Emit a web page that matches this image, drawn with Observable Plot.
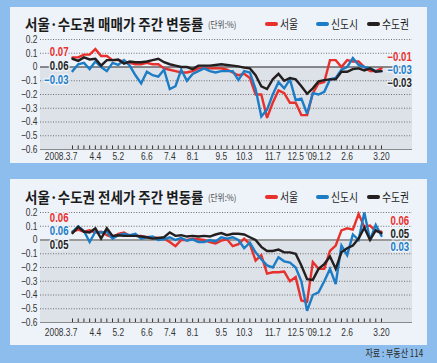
<!DOCTYPE html>
<html><head><meta charset="utf-8">
<script src="https://cdn.jsdelivr.net/npm/d3@7"></script>
<script src="https://cdn.jsdelivr.net/npm/@observablehq/plot@0.6"></script>
<style>
body{margin:0;background:#8dbdec;}
#page{position:relative;width:437px;height:363px;background:#8dbdec;overflow:hidden;font-family:"Noto Sans CJK KR","Noto Sans",sans-serif;}
.panel{position:absolute;left:10px;width:417px;background:#eef3f9;}
.panel svg{position:absolute;left:0;top:0;}
.title{position:absolute;left:15px;font-weight:bold;font-size:14.5px;line-height:15px;transform:scaleX(0.93);transform-origin:0 50%;white-space:nowrap;color:#1b1b1b;}
.unit{position:absolute;left:198px;font-size:9px;line-height:10px;transform:scaleX(0.85);transform-origin:0 50%;white-space:nowrap;color:#444;}
.leg{position:absolute;font-size:12px;line-height:12px;white-space:nowrap;color:#1b1b1b;}
.leg span.sw{position:absolute;top:4px;width:13px;height:4px;border-radius:2px;}
.leg span.tx{position:absolute;left:15px;top:0;transform:scaleX(0.82);transform-origin:0 50%;}
#src{position:absolute;right:14px;top:347px;font-size:10px;line-height:11px;color:#2a2a2a;transform:scaleX(0.8);transform-origin:100% 50%;white-space:nowrap;}
</style>
</head><body>
<div id="page"></div>
<script>
// ---------- data ----------
const weekCount = 55; // 2008.3.7 .. 2009.3.20, weekly
const xTickWeeks = [0, 4, 8, 13, 17, 21, 26, 30, 35, 39, 43, 48, 54];
const xTickLabels = ["2008.3.7", "4.4", "5.2", "6.6", "7.4", "8.1", "9.5", "10.3", "11.7", "12.5", "'09.1.2", "2.6", "3.20"];
const yTicks = [0.2, 0.1, 0, -0.1, -0.2, -0.3, -0.4, -0.5, -0.6];
const seriesNames = ["서울", "신도시", "수도권"];
const seriesColors = ["#e8302c", "#1c7dc6", "#231f20"];

// 매매가 (sale price) weekly change, %
const saleSeoul = [0.07,0.07,0.09,0.09,0.13,0.08,0.08,0.05,0.05,0.04,0.03,0.02,0.02,0.03,0.02,0.02,-0.01,-0.02,-0.03,-0.04,-0.04,-0.03,-0.01,-0.01,-0.01,-0.01,-0.01,-0.02,-0.04,-0.06,-0.05,-0.08,-0.2,-0.2,-0.37,-0.26,-0.17,-0.19,-0.26,-0.26,-0.35,-0.35,-0.19,-0.12,-0.11,0.05,0.05,0,0.05,0.04,0.04,0,-0.03,-0.03,-0.01];
const saleNewTown = [-0.03,0.02,0.03,-0.015,0.04,0,-0.03,0.03,0.015,0.05,0.01,-0.06,-0.12,-0.035,-0.06,-0.07,-0.02,-0.16,-0.14,-0.02,-0.1,-0.05,-0.03,-0.01,-0.03,-0.04,-0.03,-0.03,-0.03,-0.095,-0.03,-0.04,-0.16,-0.36,-0.31,-0.2,-0.11,-0.155,-0.09,-0.24,-0.23,-0.34,-0.19,-0.2,-0.18,-0.09,-0.08,-0.02,0,0.065,0.015,0,-0.01,-0.03,-0.03];
const saleMetro = [0.06,0.045,0.07,0.055,0.06,0.01,0.05,0.05,0.055,0.025,0.04,0.035,0.035,0.04,0.05,0.06,0.035,0.02,0.01,0,0,-0.015,0.01,0.01,0.01,0.015,0.02,0.015,0.01,0.005,-0.005,-0.01,-0.06,-0.14,-0.16,-0.09,-0.05,-0.1,-0.08,-0.09,-0.14,-0.195,-0.155,-0.105,-0.095,-0.09,-0.09,-0.035,-0.035,-0.015,-0.01,-0.025,-0.01,-0.035,-0.03];

// 전세가 (jeonse) weekly change, %
const rentSeoul = [0.06,0.075,0.06,0.07,0.055,0.06,0.035,0.02,0.045,0.055,0.03,0.03,0.03,0.02,0.02,0.015,0.01,-0.015,-0.045,0,0,0.01,0.005,0,-0.015,-0.025,-0.005,0.005,-0.045,-0.03,0.01,-0.03,-0.15,-0.11,-0.245,-0.235,-0.235,-0.23,-0.3,-0.27,-0.44,-0.45,-0.16,-0.21,-0.21,-0.08,-0.04,0.07,0.085,0.075,0.19,0.095,0.105,0.065,0.06];
const rentNewTown = [0.06,0.1,0.065,-0.015,0.06,0.055,0.06,0.01,0.035,0.045,0.035,0.045,0.01,0.02,0.025,0,0.005,0.02,0,0.015,-0.005,0.005,-0.015,-0.015,0,-0.01,0.02,0.01,0.02,0,-0.06,-0.02,-0.09,-0.14,-0.185,-0.2,-0.125,-0.155,-0.165,-0.2,-0.3,-0.515,-0.4,-0.38,-0.3,-0.21,-0.32,-0.04,-0.11,0.04,0,0.2,0,0.11,0.03];
const rentMetro = [0.05,0.095,0.06,0.055,0.085,0.01,0.085,0.03,0.035,0.03,0.03,0.03,0.025,0.02,0.01,0.015,0.02,0.055,0.03,0.035,0.025,0.03,0.025,0.03,0.025,0.04,0.05,0.035,0.045,0.045,0.04,0.02,0,-0.05,-0.08,-0.08,-0.07,-0.09,-0.09,-0.1,-0.185,-0.285,-0.29,-0.21,-0.175,-0.12,-0.21,-0.09,-0.06,-0.04,0.01,0.09,0,0.07,0.05];

// ---------- helpers ----------
const FONT = '"Liberation Sans",Arial,sans-serif';
const fmtTick = d => d === 0 ? "0" : (d < 0 ? "\u2212" : "") + Math.abs(d).toFixed(1);
const fmtVal = d => (d < 0 ? "\u2212" : "") + Math.abs(d).toFixed(2);
const xDomain = [-5.59, 59.42];
const PANEL_BG = "#eef3f9";

// condense every SVG text horizontally about its own anchor point
function condense(svg, k) {
  svg.querySelectorAll("text").forEach(t => {
    let x = parseFloat(t.getAttribute("x"));
    if (!isFinite(x)) x = 0;
    const tr = t.getAttribute("transform") || "";
    t.setAttribute("transform", `${tr} translate(${x},0) scale(${k},1) translate(${-x},0)`.trim());
  });
  return svg;
}

function chart(cfg) {
  const sets = cfg.series;
  const rows = [];
  sets.forEach((vals, s) => vals.forEach((v, i) => rows.push({week: i, value: v, s})));
  const startLab = cfg.startOrder.map((s, k) => ({s, y: cfg.startLanes[k], text: fmtVal(sets[s][0])}));
  const endLab = cfg.endOrder.map((s, k) => ({s, y: cfg.endLanes[k], text: fmtVal(sets[s][sets[s].length - 1])}));
  const xl = xTickWeeks.map((w, k) => ({w, t: xTickLabels[k]}));
  const gridVals = yTicks.filter(v => v !== 0 && v !== -0.6);
  const svg = Plot.plot({
    width: 417, height: 156,
    marginLeft: 30, marginRight: 15, marginTop: cfg.top, marginBottom: 156 - cfg.bottom,
    x: {domain: xDomain, axis: null},
    y: {domain: [-0.6, 0.2], axis: null},
    style: {background: "transparent", overflow: "visible"},
    marks: [
      Plot.rect([0], {x1: xDomain[0], x2: xDomain[1], y1: -0.6, y2: 0, fill: "#dde1e8"}),
      Plot.ruleY(gridVals, {stroke: "#6d6d6d", strokeDasharray: "1,1.6", strokeWidth: 1}),
      Plot.ruleY([-0.6], {stroke: "#8a8a8a", strokeWidth: 1}),
      Plot.ruleX(d3.range(weekCount), {y1: -0.6, y2: -0.574, stroke: "#333", strokeWidth: 1}),
      Plot.axisY({ticks: yTicks, tickSize: 0, tickPadding: 3, tickFormat: fmtTick, fontSize: 10.5, fontFamily: FONT, fill: "#333"}),
      Plot.text(xl.slice(0, 1), {x: "w", y: -0.6, dy: cfg.xlabDy, dx: 5, text: "t", textAnchor: "end", fontSize: 10.5, fontFamily: FONT, fill: "#333"}),
      Plot.text(xl.slice(1), {x: "w", y: -0.6, dy: cfg.xlabDy, text: "t", fontSize: 10.5, fontFamily: FONT, fill: "#333"}),
      Plot.ruleY([0], {stroke: cfg.zeroColor, strokeWidth: cfg.zeroWidth}),
      ...[0, 1, 2].map(s => Plot.line(rows.filter(r => r.s === s), {x: "week", y: "value", stroke: seriesColors[s], strokeWidth: 2.4, strokeLinejoin: "miter", strokeMiterlimit: 3})),
      Plot.text(startLab, {x: 0, y: "y", dy: -1, dx: -4, text: "text", fill: d => seriesColors[d.s], textAnchor: "end", fontSize: 12, fontWeight: "bold", fontFamily: FONT, stroke: PANEL_BG, strokeWidth: 3, paintOrder: "stroke"}),
      Plot.text(endLab, {x: weekCount - 1, y: "y", dx: cfg.endDx, text: "text", fill: d => seriesColors[d.s], textAnchor: "start", fontSize: 12, fontWeight: "bold", fontFamily: FONT, stroke: PANEL_BG, strokeWidth: 3, paintOrder: "stroke"})
    ]
  });
  return condense(svg, 0.8);
}

function panel(top, height, title, cfg) {
  const p = document.createElement("div");
  p.className = "panel";
  p.style.top = top + "px";
  p.style.height = height + "px";
  p.appendChild(chart(cfg));
  const t = document.createElement("div");
  t.className = "title"; t.textContent = title; t.style.top = cfg.titleTop + "px";
  p.appendChild(t);
  const u = document.createElement("div");
  u.className = "unit"; u.textContent = "(단위:%)"; u.style.top = (cfg.titleTop + 4) + "px";
  p.appendChild(u);
  const legX = [255, 306, 357];
  seriesNames.forEach((n, s) => {
    const l = document.createElement("div");
    l.className = "leg";
    l.style.left = legX[s] + "px"; l.style.top = (cfg.titleTop + 2) + "px";
    l.innerHTML = `<span class="sw" style="background:${seriesColors[s]}"></span><span class="tx">${n}</span>`;
    p.appendChild(l);
  });
  document.getElementById("page").appendChild(p);
}

panel(7, 156, "서울·수도권 매매가 주간 변동률", {
  series: [saleSeoul, saleNewTown, saleMetro],
  top: 32, bottom: 142, xlabDy: 7, zeroColor: "#2a2a2a", zeroWidth: 1,
  startOrder: [0, 2, 1], startLanes: [0.1, 0, -0.1],
  endOrder: [0, 1, 2], endLanes: [0.075, -0.022, -0.12], endDx: 6,
  titleTop: 9
});
panel(179, 166, "서울·수도권 전세가 주간 변동률", {
  series: [rentSeoul, rentNewTown, rentMetro],
  top: 33, bottom: 143, xlabDy: 10, zeroColor: "#9a9a9a", zeroWidth: 2.2,
  startOrder: [0, 1, 2], startLanes: [0.155, 0.054, -0.044],
  endOrder: [0, 2, 1], endLanes: [0.139, 0.039, -0.051], endDx: 9,
  titleTop: 10
});

const src = document.createElement("div");
src.id = "src"; src.textContent = "자료 : 부동산 114";
document.getElementById("page").appendChild(src);
</script>
</body></html>
